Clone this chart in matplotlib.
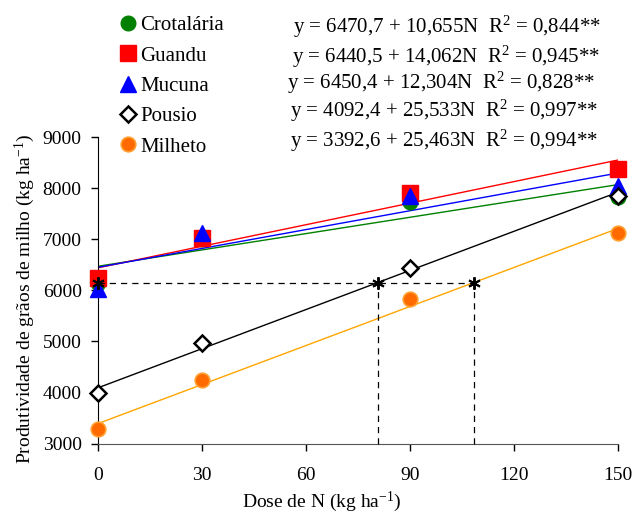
import matplotlib
matplotlib.use("Agg")
import matplotlib.pyplot as plt
import numpy as np

plt.rcParams["font.family"] = "Liberation Serif"
plt.rcParams["mathtext.fontset"] = "custom"
plt.rcParams["mathtext.rm"] = "Liberation Serif"
plt.rcParams["mathtext.it"] = "Liberation Serif:italic"

# -------------------------------
# Data
# -------------------------------

doses = [0, 30, 90, 150]

crotalaria = [6150, 7000, 7720, 7830]
guandu = [6235, 7020, 7900, 8380]
mucuna = [6020, 7120, 7850, 8040]
pousio = [3990, 4960, 6430, 7850]
milheto = [3280, 4240, 5820, 7120]

names = ["Crotalária", "Guandu", "Mucuna", "Pousio", "Milheto"]
intercepts = [6470.7, 6440.5, 6450.4, 4092.4, 3392.6]
slopes = [10.655, 14.062, 12.304, 25.533, 25.463]
r2 = [0.844, 0.945, 0.828, 0.997, 0.994]

ref_level = 6150

series = [crotalaria, guandu, mucuna, pousio, milheto]

# marker styles: marker, face, edge, size, edge width
styles = [
    ("o", "#008000", "#008000", 10.5, 1.0),
    ("s", "#FF0000", "#FF0000", 11, 1.0),
    ("^", "#0000FF", "#0000FF", 11, 1.0),
    ("D", "white", "black", 8, 1.8),
    ("o", "#FF6A00", "#FFA030", 10.5, 1.2),
]
line_colors = ["#008000", "#FF0000", "#0000FF", "black", "#FFA500"]

fig = plt.figure(figsize=(6.35, 5.13), dpi=100)
ax = fig.add_axes([98.3 / 635, 1 - 443.5 / 513, 520 / 635, 306.5 / 513])

# ---------------------------------
# Regression lines
# ---------------------------------

xfit = np.array([0, 150])
for b0, b1, c in zip(intercepts, slopes, line_colors):
    ax.plot(xfit, b0 + b1 * xfit, color=c, lw=1.0, zorder=2)

# ---------------------------------
# Observed points
# ---------------------------------

for name, vals, (m, fc, ec, ms, mew) in zip(names, series, styles):
    ax.plot(doses, vals, linestyle="none", marker=m, markersize=ms,
            markerfacecolor=fc, markeredgecolor=ec, markeredgewidth=mew,
            label=name, clip_on=False, zorder=3)

# ---------------------------------
# Reference dashed lines
# ---------------------------------

x_pousio = (ref_level - intercepts[3]) / slopes[3]
x_milheto = (ref_level - intercepts[4]) / slopes[4]

ax.plot([0, x_milheto], [ref_level, ref_level], color="black", lw=0.9,
        dashes=(5, 4), zorder=4)
for xv in [x_pousio, x_milheto]:
    ax.plot([xv, xv], [2985, ref_level], color="black", lw=0.9,
            dashes=(5, 4), zorder=4, clip_on=False)
ax.plot([0, x_pousio, x_milheto], [ref_level] * 3, linestyle="none",
        marker=(6, 2, 0), markersize=9, color="black", mew=1.4,
        clip_on=False, zorder=5)

# ---------------------------------
# Axes
# ---------------------------------

ax.set_xlim(0, 150)
ax.set_ylim(3000, 9000)
ax.set_xticks(range(0, 151, 30))
ax.set_yticks(range(3000, 9001, 1000))
ax.spines["top"].set_visible(False)
ax.spines["right"].set_visible(False)
ax.spines["bottom"].set_color("#555555")
ax.tick_params(axis="both", direction="out", length=5, width=1, labelsize=14)
ax.tick_params(axis="y", pad=7)
ax.tick_params(axis="x", pad=12)

ax.set_xlabel(r"Dose de N (kg ha$^{\mathregular{-1}}$)", fontsize=14)
ax.xaxis.set_label_coords((322 - 98.3) / 520, -(507 - 443.5) / 306.5)
ax.xaxis.label.set_va("baseline")
ax.set_ylabel(r"Produtividade de grãos de milho (kg ha$^{\mathregular{-1}}$)",
              fontsize=14)
ax.yaxis.set_label_coords((25 - 98.3) / 520, (443.5 - 299) / 306.5)
ax.yaxis.label.set_va("center")

# ---------------------------------
# Legend + equations
# ---------------------------------

ax.legend(loc="upper left", bbox_to_anchor=(120 / 635, 1 - 15.5 / 513),
          bbox_transform=fig.transFigure, frameon=False, fontsize=15,
          handlelength=0.8, handletextpad=0.17, labelspacing=0.52,
          borderpad=0, borderaxespad=0)

baselines = [33, 63, 89, 117, 147]
eq_x = [293, 292, 287, 290, 290]
for b0, b1, r, yy, xx in zip(intercepts, slopes, r2, baselines, eq_x):
    txt = ("y = " + f"{b0:.1f}".replace(".", ",") + " + "
           + f"{b1:.3f}".replace(".", ",") + "N  R$^{\\mathregular{2}}$ = "
           + f"{r:.3f}".replace(".", ",") + "**")
    fig.text(xx / 635, 1 - yy / 513, txt, fontsize=15, va="baseline", ha="left")

fig.savefig("out.png", dpi=100)
